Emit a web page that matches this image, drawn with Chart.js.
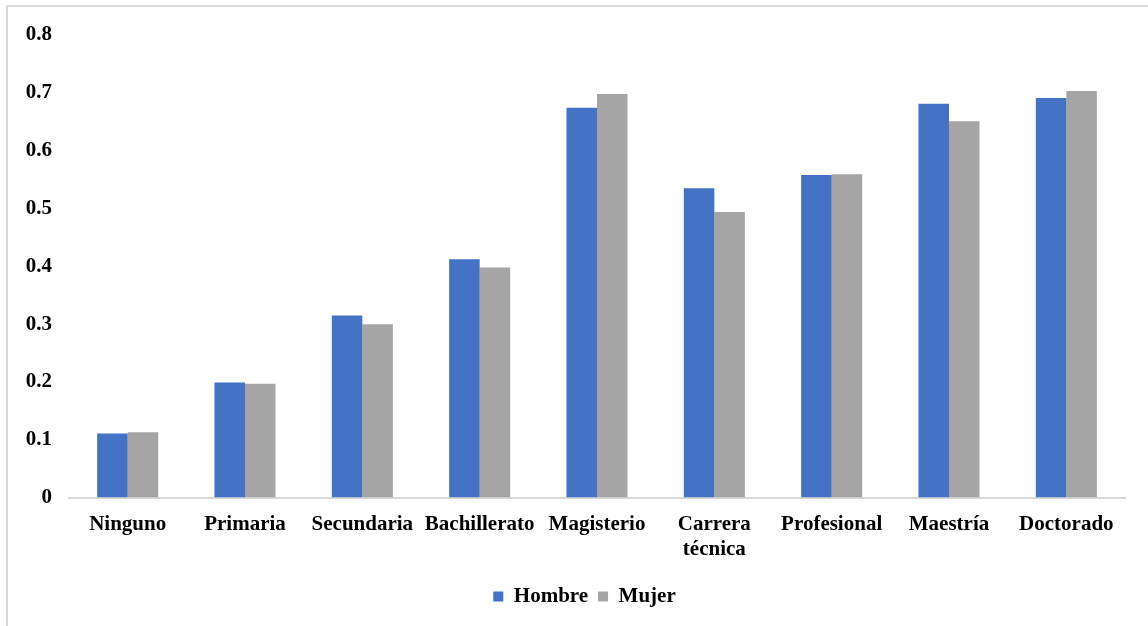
<!DOCTYPE html>
<html>
<head>
<meta charset="utf-8">
<script src="https://cdn.jsdelivr.net/npm/chart.js@4"></script>
<style>
  html, body { margin: 0; padding: 0; background: #fff; }
  #wrap { position: relative; width: 1148px; height: 626px; }
  #frame { position: absolute; left: 6px; top: 5px; right: -10px; bottom: -10px; border-left: 2px solid #d9d9d9; border-top: 2px solid #d9d9d9; }
  canvas { position: absolute; left: 0; top: 0; }
</style>
</head>
<body>
<div id="wrap">
  <div id="frame"></div>
  <canvas id="eduChart" width="1148" height="626"></canvas>
</div>
<script>
const categories = ["Ninguno", "Primaria", "Secundaria", "Bachillerato", "Magisterio", ["Carrera", "técnica"], "Profesional", "Maestría", "Doctorado"];
const hombre = [0.111, 0.199, 0.315, 0.412, 0.674, 0.535, 0.558, 0.681, 0.691];
const mujer = [0.113, 0.197, 0.300, 0.398, 0.698, 0.494, 0.559, 0.651, 0.703];
const yTicks = [0, 0.1, 0.2, 0.3, 0.4, 0.5, 0.6, 0.7, 0.8];

const serif = "'Liberation Serif', 'Times New Roman', serif";

// nudge the legend a bit to the right, like the original
const legendShift = {
  id: "legendShift",
  afterLayout(chart) {
    chart.legend.left += 22;
    chart.legend.right += 22;
  },
};

document.addEventListener("DOMContentLoaded", function () {
  const ctx = document.getElementById("eduChart").getContext("2d");

  new Chart(ctx, {
    type: "bar",
    data: {
      labels: categories,
      datasets: [
        { label: "Hombre", data: hombre, backgroundColor: "#4472C4" },
        { label: "Mujer", data: mujer, backgroundColor: "#A5A5A5" },
      ],
    },
    options: {
      responsive: false,
      animation: false,
      categoryPercentage: 0.52,
      barPercentage: 1,
      layout: { padding: { left: 0, right: 23, top: 35, bottom: 9 } },
      scales: {
        x: {
          grid: { display: false, drawTicks: false },
          border: { display: true, color: "#d9d9d9", width: 2 },
          ticks: {
            color: "#000",
            padding: 14,
            maxRotation: 0,
            autoSkip: false,
            font: { family: serif, size: 21, weight: "bold" },
          },
        },
        y: {
          min: 0,
          max: 0.8,
          afterFit: function (scale) { scale.width = 69; },
          afterBuildTicks: function (scale) { scale.ticks = yTicks.map(v => ({ value: v })); },
          grid: { display: false, drawTicks: false },
          border: { display: false },
          ticks: {
            color: "#000",
            padding: 17,
            font: { family: serif, size: 21, weight: "bold" },
          },
        },
      },
      plugins: {
        legend: {
          position: "bottom",
          labels: {
            color: "#000",
            boxWidth: 10,
            boxHeight: 10,
            padding: 10,
            font: { family: serif, size: 21, weight: "bold" },
          },
        },
        tooltip: { enabled: false },
      },
    },
    plugins: [legendShift],
  });
});
</script>
</body>
</html>
